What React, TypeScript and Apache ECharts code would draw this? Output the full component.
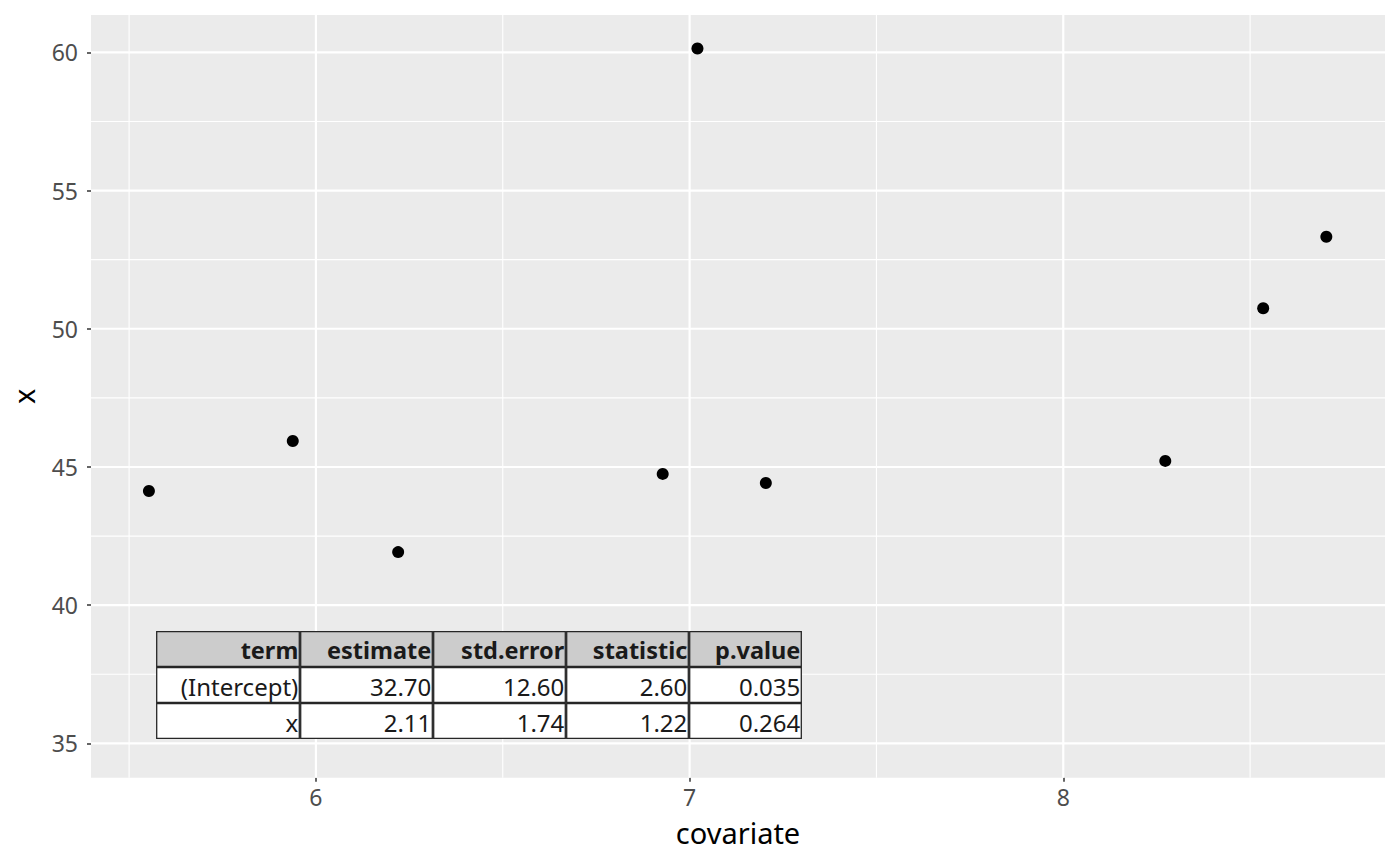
import React, { useEffect, useRef } from "react";
import * as echarts from "echarts";

// ---- data ----
const covariate = [5.553, 5.938, 6.22, 6.928, 7.021, 7.204, 8.273, 8.535, 8.704];
const xValues = [44.13, 45.94, 41.92, 44.75, 60.14, 44.42, 45.22, 50.74, 53.33];

const xMajorTicks = [6, 7, 8];
const xMinorTicks = [5.5, 6.5, 7.5, 8.5];
const yMajorTicks = [35, 40, 45, 50, 55, 60];
const yMinorTicks = [37.5, 42.5, 47.5, 52.5, 57.5];

const tableHeader = ["term", "estimate", "std.error", "statistic", "p.value"];
const tableRow1 = ["(Intercept)", "32.70", "12.60", "2.60", "0.035"];
const tableRow2 = ["x", "2.11", "1.74", "1.22", "0.264"];

const X_MIN = 5.398;
const X_MAX = 8.861;
const Y_MIN = 33.76;
const Y_MAX = 61.35;

const FONT = "'Noto Sans', 'Open Sans', sans-serif";

function buildTable() {
  const colEdges = [156, 300, 433, 566, 689, 802];
  const rowEdges = [631, 667, 703, 739];
  const rows = [tableHeader, tableRow1, tableRow2];
  const children: any[] = [];
  rows.forEach((row, r) => {
    row.forEach((cell, c) => {
      const x0 = colEdges[c] + 0.7;
      const x1 = colEdges[c + 1] - 0.7;
      const y0 = rowEdges[r] + 0.7;
      const y1 = rowEdges[r + 1] - 0.7;
      children.push({
        type: "rect",
        shape: { x: x0, y: y0, width: x1 - x0, height: y1 - y0 },
        style: {
          fill: r === 0 ? "#CCCCCC" : "#FFFFFF",
          stroke: "#262626",
          lineWidth: 1.3,
        },
        z: 10,
      });
      children.push({
        type: "text",
        x: x1 - 1,
        y: (y0 + y1) / 2 + 1,
        style: {
          text: cell,
          fill: "#1A1A1A",
          font: `${r === 0 ? "bold " : ""}${r === 0 ? 23.5 : 24}px ${FONT}`,
          align: "right",
          verticalAlign: "middle",
        },
        z: 11,
      });
    });
  });
  return { type: "group", silent: true, children };
}

export default function App() {
  const ref = useRef<HTMLDivElement>(null);

  useEffect(() => {
    if (!ref.current) return;
    const chart = echarts.init(ref.current, null, { renderer: "svg" });

    const gridData: number[][] = [];
    xMajorTicks.forEach((v) => gridData.push([v, 0, 1]));
    xMinorTicks.forEach((v) => gridData.push([v, 0, 0]));
    yMajorTicks.forEach((v) => gridData.push([v, 1, 1]));
    yMinorTicks.forEach((v) => gridData.push([v, 1, 0]));

    const option: any = {
      animation: false,
      backgroundColor: "#FFFFFF",
      textStyle: { fontFamily: FONT },
      grid: {
        left: 91,
        top: 15,
        right: 15,
        bottom: 88.3,
        show: true,
        backgroundColor: "#EBEBEB",
        borderWidth: 0,
        containLabel: false,
      },
      xAxis: {
        type: "value",
        min: X_MIN,
        max: X_MAX,
        name: "covariate",
        nameLocation: "middle",
        nameGap: 40,
        nameTextStyle: { color: "#000000", fontSize: 29, fontFamily: FONT },
        axisLine: { show: false },
        splitLine: { show: false },
        axisTick: {
          show: true,
          length: 4,
          customValues: xMajorTicks,
          lineStyle: { color: "#333333", width: 1.5 },
        },
        axisLabel: {
          customValues: xMajorTicks,
          color: "#4D4D4D",
          fontSize: 23,
          margin: 8,
          fontFamily: FONT,
        },
      },
      yAxis: {
        type: "value",
        min: Y_MIN,
        max: Y_MAX,
        name: "x",
        nameLocation: "middle",
        nameGap: 53,
        nameRotate: 90,
        nameTextStyle: { color: "#000000", fontSize: 29, fontFamily: FONT },
        axisLine: { show: false },
        splitLine: { show: false },
        axisTick: {
          show: true,
          length: 4,
          customValues: yMajorTicks,
          lineStyle: { color: "#333333", width: 1.5 },
        },
        axisLabel: {
          customValues: yMajorTicks,
          color: "#4D4D4D",
          fontSize: 23,
          margin: 13,
          fontFamily: FONT,
        },
      },
      series: [
        {
          type: "custom",
          silent: true,
          z: 1,
          data: gridData,
          renderItem: (params: any, api: any) => {
            const v = api.value(0);
            const kind = api.value(1);
            const major = api.value(2);
            let p1, p2;
            if (kind === 0) {
              p1 = api.coord([v, Y_MIN]);
              p2 = api.coord([v, Y_MAX]);
            } else {
              p1 = api.coord([X_MIN, v]);
              p2 = api.coord([X_MAX, v]);
            }
            return {
              type: "line",
              shape: { x1: p1[0], y1: p1[1], x2: p2[0], y2: p2[1] },
              style: { stroke: "#FFFFFF", lineWidth: major ? 2.2 : 1.1 },
            };
          },
        },
        {
          type: "scatter",
          z: 3,
          symbol: "circle",
          symbolSize: 12,
          itemStyle: { color: "#000000", opacity: 1 },
          data: covariate.map((c, i) => [c, xValues[i]]),
        },
      ],
      graphic: [buildTable()],
    };

    chart.setOption(option);
    return () => chart.dispose();
  }, []);

  return (
    <div
      ref={ref}
      style={{ position: "fixed", left: 0, top: 0, width: 1400, height: 866 }}
    />
  );
}
